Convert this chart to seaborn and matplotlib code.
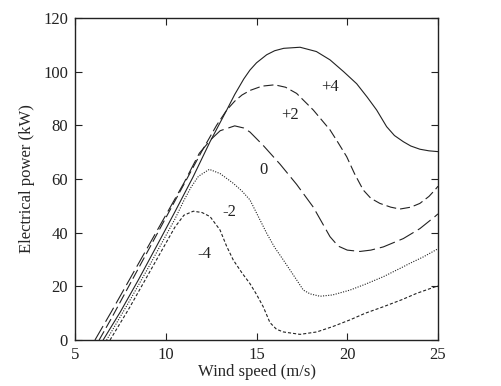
import numpy as np
import pandas as pd
import matplotlib
matplotlib.use("Agg")
import matplotlib.pyplot as plt
import seaborn as sns

# ---- data ----
p4_x = [6.55, 7.5, 8.5, 9.68, 10.5, 11.5, 12.44, 13.36, 13.8, 14.3, 14.64, 15.0, 15.56, 16.0,
        16.5, 17.4, 18.3, 19.05, 19.8, 20.52, 21.1, 21.62, 22.17, 22.6, 23.09, 23.5, 24.0,
        24.5, 25.0]
p4_y = [0, 10.5, 22.5, 37.3, 47.7, 60.7, 73.9, 85.7, 91.5, 97.3, 100.6, 103.3, 106.3, 107.8,
        108.7, 109.1, 107.5, 104.4, 100.0, 95.5, 90.5, 85.7, 79.5, 76.2, 73.9, 72.3, 71.1,
        70.5, 70.2]

p2_x = [6.33, 7.0, 8.0, 9.0, 10.0, 11.0, 12.0, 12.8, 13.36, 13.8, 14.2, 14.64, 15.3, 16.0,
        16.6, 17.21, 18.13, 19.05, 19.5, 19.97, 20.4, 20.88, 21.3, 21.8, 22.4, 22.9, 23.5,
        24.0, 24.5, 24.83, 25.0]
p2_y = [0, 8.0, 20.5, 33.0, 45.5, 58.0, 70.5, 80.0, 85.7, 89.0, 91.3, 93.0, 94.6, 95.1,
        94.2, 91.9, 85.7, 78.3, 73.5, 68.3, 62.0, 55.9, 52.8, 50.9, 49.5, 48.8, 49.5,
        50.9, 53.5, 55.9, 57.3]

z0_x = [6.1, 7.0, 8.0, 9.0, 10.0, 11.0, 11.85, 12.5, 13.0, 13.8, 14.3, 14.64, 15.37, 16.3,
        17.21, 18.13, 19.05, 19.5, 20.0, 20.7, 21.3, 21.99, 23.09, 24.0, 24.83, 25.0]
z0_y = [0, 10.5, 22.5, 34.5, 46.5, 58.5, 69.6, 74.8, 78.0, 79.8, 79.0, 77.5, 72.5, 65.5,
        58.0, 49.5, 38.5, 35.0, 33.5, 33.0, 33.5, 34.7, 37.8, 41.5, 46.0, 47.0]

m2_x = [6.74, 8.0, 9.0, 9.85, 10.5, 11.0, 11.4, 11.8, 12.4, 13.0, 13.72, 14.2, 14.64, 15.1,
        15.56, 16.0, 16.48, 17.21, 17.58, 17.95, 18.5, 19.2, 20.15, 21.0, 21.99, 23.0,
        23.46, 24.2, 25.0]
m2_y = [0, 14.5, 26.5, 37.0, 45.0, 52.0, 57.0, 61.0, 63.6, 62.0, 58.4, 55.5, 52.2, 46.0,
        39.8, 34.5, 29.8, 22.4, 18.6, 17.2, 16.3, 16.8, 18.6, 20.8, 23.6, 27.0,
        28.6, 31.0, 34.0]

m4_x = [6.93, 8.0, 9.0, 10.0, 10.5, 11.0, 11.52, 12.0, 12.44, 12.99, 13.35, 13.72, 14.2,
        14.64, 15.0, 15.37, 15.74, 16.1, 16.48, 17.4, 18.32, 19.2, 20.15, 21.0, 21.99,
        23.0, 23.83, 25.0]
m4_y = [0, 12.0, 24.0, 36.0, 42.0, 46.5, 48.0, 47.5, 46.0, 41.0, 35.0, 29.8, 25.0,
        21.0, 17.0, 12.4, 6.5, 4.0, 3.0, 2.1, 3.0, 5.0, 7.5, 10.0, 12.4,
        15.0, 17.4, 20.2]

curve_names = ["+4", "+2", "0", "-2", "-4"]
label_x = [19.05, 16.85, 15.37, 13.49, 12.12]
label_y = [94.2, 83.9, 63.4, 47.6, 31.9]

# ---- build long table ----
frames = []
for name, xs, ys in zip(curve_names,
                        [p4_x, p2_x, z0_x, m2_x, m4_x],
                        [p4_y, p2_y, z0_y, m2_y, m4_y]):
    frames.append(pd.DataFrame({"x": xs, "y": ys, "curve": name}))
df = pd.concat(frames, ignore_index=True)

sns.set_style("ticks")
plt.rcParams["font.family"] = ["Liberation Serif", "DejaVu Serif"]
plt.rcParams["font.size"] = 12

fig = plt.figure(figsize=(5.01, 3.86), dpi=100)
ax = fig.add_axes([75 / 501, 1 - 340 / 386, (438 - 75) / 501, (340 - 18) / 386])

dash_map = {"+4": "", "+2": (9, 3.6), "0": (14.5, 4.5), "-2": (1, 1.3), "-4": (2.8, 1.8)}
sns.lineplot(data=df, x="x", y="y", style="curve", dashes=dash_map, units="curve",
             estimator=None, sort=False, color="#222222", linewidth=0.8,
             legend=False, ax=ax)

for t, lx, ly in zip(curve_names, label_x, label_y):
    ax.text(lx, ly, t, ha="center", va="center", fontsize=12, color="#222222")

ax.set_xlim(5, 25)
ax.set_ylim(0, 120)
ax.set_xticks([5, 10, 15, 20, 25])
ax.set_yticks([0, 20, 40, 60, 80, 100, 120])
ax.tick_params(direction="in", length=5, width=0.8, top=True, right=True,
               labelsize=12, colors="#222222", pad=5)
for s in ax.spines.values():
    s.set_linewidth(1.0)
    s.set_color("#222222")
ax.set_xlabel("Wind speed (m/s)", fontsize=12, labelpad=1)
ax.set_ylabel("Electrical power (kW)", fontsize=12, labelpad=6)

fig.savefig("out.png", dpi=100)
